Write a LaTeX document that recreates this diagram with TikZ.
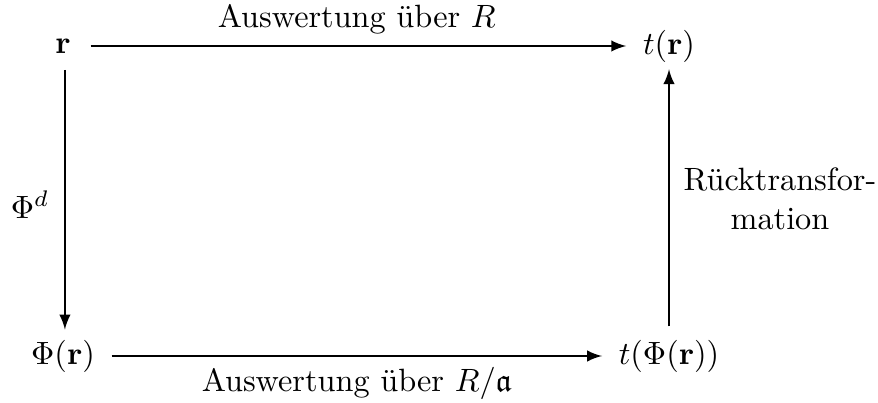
\documentclass[tikz,border=0pt]{standalone}
\usepackage{amsmath,amssymb}
\usetikzlibrary{arrows}

\begin{document}
\begin{tikzpicture}[x=0.31pt,y=-0.31pt]
	\tikzset{
	  map/.style={-latex, semithick},
	  obj/.style={inner sep=2pt},
	}
	\useasboundingbox (0,0) rectangle (878,403);
	\node[obj] (R) at (63,46) {$\mathbf{r}$};
	\node[obj] (TR) at (669,46) {$t(\mathbf{r})$};
	\node[obj] (PR) at (63,356) {$\Phi(\mathbf{r})$};
	\node[obj] (TPR) at (669,356) {$t(\Phi(\mathbf{r}))$};
	
	\draw[map, shorten <=4pt, shorten >=3pt] (R)--(TR) node[midway, above=0pt] {Auswertung \"uber $R$};
	\draw[map, shorten <=3pt, shorten >=3pt] (PR)--(TPR) node[midway, below=0pt] {Auswertung \"uber $R/\mathfrak{a}$};
	\draw[map, shorten <=3pt, shorten >=1pt] ([xshift=0.6pt]R.south)--([xshift=0.6pt]PR.north);
	\draw[map, shorten <=2pt, shorten >=0pt] (TPR.north)--(TR.south);
	
	\node (Phid) at (30,205) {$\Phi^d$};
	\node[align=center] (Rueck) at (780,199) {R\"ucktransfor-\\mation};
\end{tikzpicture}
\end{document}
